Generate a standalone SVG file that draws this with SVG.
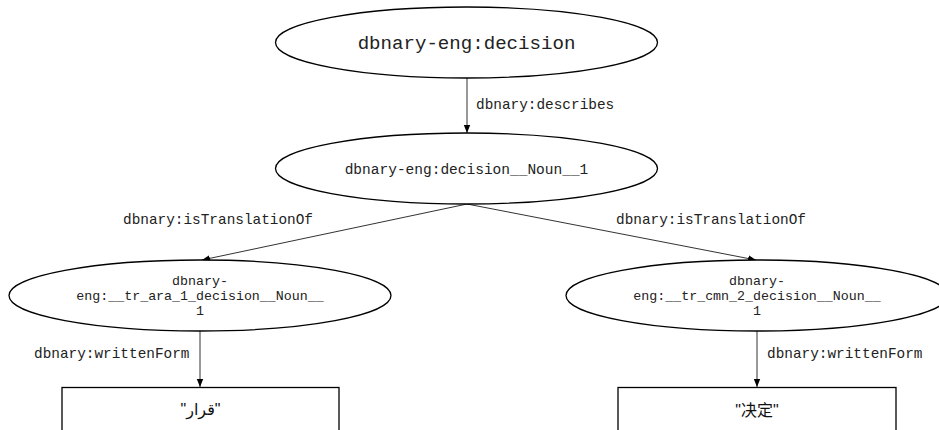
<svg xmlns="http://www.w3.org/2000/svg" width="939" height="430" viewBox="0 0 939 430">
<style>
.node{fill:#fff;stroke:#000;stroke-width:1.3}
.edge{stroke:#333;stroke-width:1;fill:none}
.mono{font-family:"Liberation Mono","Courier New",monospace;fill:#222}
.lbl{font-family:"Liberation Mono","Courier New",monospace;font-size:14.4px;fill:#222}
.lit{font-family:"Liberation Sans","DejaVu Sans","Noto Sans CJK SC",sans-serif;font-size:16px;fill:#111}
</style>
<defs>
<marker id="arr" viewBox="0 0 10 10" refX="10" refY="5" markerWidth="8" markerHeight="8" markerUnits="userSpaceOnUse" orient="auto">
<path d="M0,1 L10,5 L0,9 Z" fill="#000"/>
</marker>
</defs>
<rect width="939" height="430" fill="#fff"/>
<g id="connectors">
<line class="edge" x1="467" y1="78" x2="467" y2="133" marker-end="url(#arr)"/>
<text class="lbl" x="476" y="109">dbnary:describes</text>
<line class="edge" x1="467" y1="204" x2="202" y2="260" marker-end="url(#arr)"/>
<text class="lbl" x="123" y="224">dbnary:isTranslationOf</text>
<line class="edge" x1="467" y1="204" x2="756" y2="260" marker-end="url(#arr)"/>
<text class="lbl" x="616" y="224">dbnary:isTranslationOf</text>
<line class="edge" x1="200" y1="331" x2="200" y2="387" marker-end="url(#arr)"/>
<text class="lbl" x="34" y="358">dbnary:writtenForm</text>
<line class="edge" x1="757" y1="331" x2="757" y2="387" marker-end="url(#arr)"/>
<text class="lbl" x="767" y="358">dbnary:writtenForm</text>
</g>
<g id="n_decision">
<ellipse class="node" cx="466.5" cy="42.5" rx="191" ry="35.5"/>
<text class="mono" x="466.5" y="48.5" font-size="19.1" text-anchor="middle">dbnary-eng:decision</text>
</g>
<g id="n_noun">
<ellipse class="node" cx="466.5" cy="168.5" rx="191" ry="35.5"/>
<text class="mono" x="466.5" y="173.5" font-size="14.5" text-anchor="middle">dbnary-eng:decision__Noun__1</text>
</g>
<g id="n_ara">
<ellipse class="node" cx="200" cy="295.5" rx="191" ry="35.5"/>
<text class="mono" font-size="13.3" text-anchor="middle"><tspan x="200" y="285">dbnary-</tspan><tspan x="200" y="300">eng:__tr_ara_1_decision__Noun__</tspan><tspan x="200" y="315">1</tspan></text>
</g>
<g id="n_cmn">
<ellipse class="node" cx="757" cy="295.5" rx="191" ry="35.5"/>
<text class="mono" font-size="13.3" text-anchor="middle"><tspan x="757" y="285">dbnary-</tspan><tspan x="757" y="300">eng:__tr_cmn_2_decision__Noun__</tspan><tspan x="757" y="315">1</tspan></text>
</g>
<g id="lit_ara">
<rect class="node" x="62" y="387.5" width="277" height="60"/>
<text class="lit" x="200.5" y="415" text-anchor="middle">"قرار"</text>
</g>
<g id="lit_cmn">
<rect class="node" x="618" y="387.5" width="278" height="60"/>
<text class="lit" x="757" y="416" text-anchor="middle">"决定"</text>
</g>
</svg>
